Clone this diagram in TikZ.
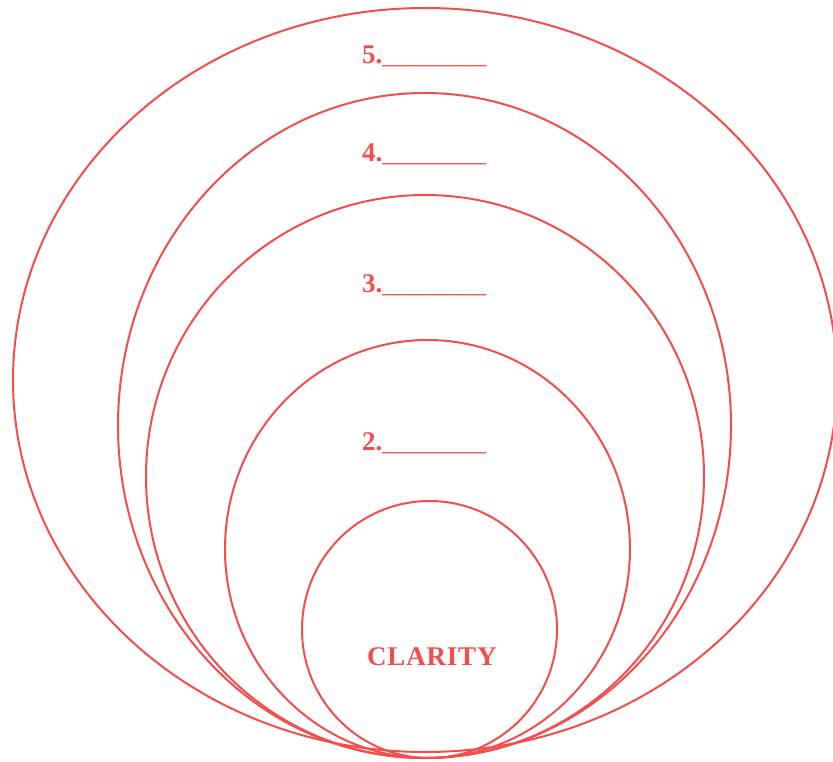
\documentclass[tikz,border=0pt]{standalone}
\usepackage{fontspec}
\setmainfont{Liberation Serif}
\definecolor{ringred}{RGB}{245,76,76}
\newcommand{\blankline}{{\fontsize{26}{26}\selectfont\mdseries\_\_\_\_\_\_\_\_}}
\begin{document}
\begin{tikzpicture}[x=1pt,y=-1pt,
  ring/.style={draw=ringred,line width=2pt},
  lbl/.style={text=ringred,font=\fontsize{27}{27}\selectfont\bfseries,inner sep=0pt,anchor=base west}]
\useasboundingbox (0,0) rectangle (833,762);
\begin{scope}
\clip (0,0) rectangle (833,762);
\draw[ring] (425,380) ellipse [x radius=412, y radius=372];
\draw[ring] (424.5,425.5) ellipse [x radius=306.5, y radius=332.5];
\draw[ring] (425,476.5) ellipse [x radius=279, y radius=281.5];
\draw[ring] (427.5,549) ellipse [x radius=202.5, y radius=209];
\draw[ring] (429.5,629.5) ellipse [x radius=127.5, y radius=128.5];
\end{scope}
\node[lbl] (l5) at (362,64) {5.\blankline};
\node[lbl] (l4) at (362,162) {4.\blankline};
\node[lbl] (l3) at (362,293) {3.\blankline};
\node[lbl] (l2) at (362,450) {2.\blankline};
\node[lbl] (cl) at (367,665) {\addfontfeature{LetterSpace=3}CLARITY};
\end{tikzpicture}
\end{document}
